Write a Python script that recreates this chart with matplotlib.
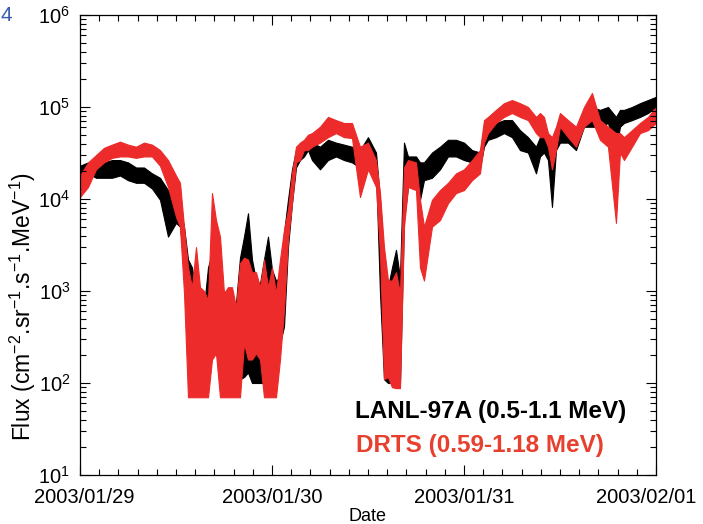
import matplotlib
matplotlib.use("Agg")
import matplotlib.pyplot as plt
import matplotlib.dates as mdates
import matplotlib.ticker as mticker
import matplotlib.transforms as mtransforms
import pandas as pd

plt.rcParams['font.family'] = ['Liberation Sans', 'DejaVu Sans']
plt.rcParams['mathtext.fontset'] = 'custom'
plt.rcParams['mathtext.rm'] = 'Liberation Sans'
plt.rcParams['mathtext.it'] = 'Liberation Sans:italic'
plt.rcParams['mathtext.bf'] = 'Liberation Sans:bold'

# hours after 2003/01/29 00:00 UT
hours = [0, 1, 2, 3, 4, 5, 6, 7, 8, 9, 10, 11, 12, 12.5, 13, 13.5, 14, 14.5, 15, 15.5,
         16, 16.5, 17, 17.5, 18, 18.5, 19, 19.5, 20, 20.5, 21, 21.5, 22, 22.5, 23, 23.5,
         24, 24.5, 25, 25.5, 26, 26.5, 27, 27.5, 28, 28.5, 29, 30, 31, 32, 33, 34, 35, 36,
         37, 37.5, 38, 38.5, 39, 39.5, 40, 40.5, 41, 42, 42.5, 43, 44, 45, 46, 47, 48, 49,
         50, 50.5, 51, 52, 53, 54, 55, 56, 57, 57.5, 58, 58.5, 59, 59.5, 60, 61, 62, 63,
         64, 65, 66, 67, 67.5, 68, 69, 70, 71, 72]

# LANL-97A flux envelope (min / max within each sample)
lanl_lo = [1.6e4, 1.9e4, 1.7e4, 1.7e4, 1.7e4, 1.8e4, 1.6e4, 1.5e4, 1.5e4, 1.3e4, 9.8e3, 3.9e3,
           5.5e3, 5.0e3, 1.8e3, 800, 100, 100, 100, 100, 110, 210, 210, 150, 180, 150, 140,
           100, 110, 116, 130, 100, 100, 100, 100, 100, 110, 130, 270, 410, 3.0e3, 9.0e3,
           2.2e4, 2.65e4, 2.9e4, 3.4e4, 2.65e4, 2.1e4, 2.65e4, 2.9e4, 2.65e4, 2.5e4, 2.2e4,
           2.65e4, 2.1e4, 950, 110, 100, 100, 100, 100, 5.9e3, 1.35e4, 1.5e4, 9.8e3, 1.6e4,
           1.7e4, 2.1e4, 2.9e4, 2.9e4, 2.65e4, 2.5e4, 2.2e4, 3.7e4, 4.4e4, 4.7e4, 5.2e4,
           4.7e4, 3.4e4, 3.2e4, 1.9e4, 2.9e4, 3.2e4, 2.65e4, 8.2e3, 3.4e4, 4.1e4, 4.1e4,
           3.4e4, 6.1e4, 6.1e4, 6.1e4, 6.7e4, 3.4e4, 6.1e4, 6.7e4, 7.2e4, 7.8e4, 8.6e4, 1.0e5]
lanl_hi = [2.3e4, 2.5e4, 2.2e4, 2.5e4, 2.65e4, 2.65e4, 2.5e4, 2.2e4, 2.2e4, 1.9e4, 1.7e4, 1.25e4,
           9.0e3, 8.2e3, 5.0e3, 2.2e3, 1.8e3, 950, 860, 670, 1.8e3, 2.6e3, 2.2e3, 1.1e3, 1.0e3,
           800, 580, 740, 2.3e3, 3.9e3, 7.0e3, 2.2e3, 1.3e3, 1.2e3, 2.2e3, 3.9e3, 1.7e3, 1.3e3,
           1.4e3, 4.3e3, 9.8e3, 2.1e4, 3.4e4, 3.4e4, 3.7e4, 4.2e4, 4.1e4, 3.7e4, 4.4e4, 4.1e4,
           3.9e4, 3.7e4, 3.4e4, 4.7e4, 3.2e4, 9.8e3, 2.2e3, 1.1e3, 1.8e3, 2.8e3, 1.4e3, 4.1e4,
           2.9e4, 2.9e4, 2.5e4, 2.5e4, 3.2e4, 3.7e4, 4.4e4, 4.4e4, 4.1e4, 3.4e4, 3.2e4, 6.1e4,
           6.1e4, 6.7e4, 7.2e4, 7.2e4, 5.6e4, 4.7e4, 3.7e4, 4.7e4, 5.2e4, 4.7e4, 3.2e4, 4.7e4,
           6.1e4, 6.1e4, 5.6e4, 9.3e4, 1.0e5, 9.3e4, 1.0e5, 7.8e4, 9.3e4, 9.3e4, 1.0e5, 1.1e5,
           1.19e5, 1.29e5]

# DRTS flux envelope
drts_lo = [1.05e4, 1.35e4, 2.1e4, 2.5e4, 2.8e4, 2.9e4, 2.9e4, 2.8e4, 2.9e4, 2.9e4, 2.3e4, 1.35e4,
           6.4e3, 5.0e3, 950, 70, 70, 70, 70, 70, 70, 180, 210, 70, 70, 70, 70, 70, 70, 270,
           180, 180, 210, 180, 70, 70, 70, 70, 180, 620, 3.6e3, 9.0e3, 2.5e4, 2.65e4, 3.4e4,
           3.4e4, 3.7e4, 4.1e4, 4.7e4, 5.2e4, 4.7e4, 4.6e4, 1.05e4, 2.1e4, 1.35e4, 2.6e3, 110,
           116, 90, 88, 88, 5.0e3, 1.35e4, 1.25e4, 1.8e3, 1.3e3, 5.0e3, 5.9e3, 9.0e3, 1.16e4,
           1.25e4, 1.6e4, 1.9e4, 4.1e4, 5.2e4, 6.7e4, 7.8e4, 8.6e4, 7.8e4, 7.2e4, 5.2e4, 4.7e4,
           4.7e4, 3.7e4, 2.1e4, 3.4e4, 6.1e4, 4.7e4, 3.7e4, 6.1e4, 7.2e4, 4.4e4, 3.7e4, 5.5e3,
           3.2e4, 2.65e4, 3.7e4, 5.2e4, 5.6e4, 6.7e4]
drts_hi = [1.8e4, 2.5e4, 3.0e4, 3.6e4, 3.9e4, 4.2e4, 3.9e4, 3.7e4, 4.1e4, 3.9e4, 3.4e4, 2.65e4,
           1.8e4, 1.5e4, 5.0e3, 1.8e3, 1.1e3, 3.0e3, 1.1e3, 1.0e3, 800, 1.16e4, 5.9e3, 3.9e3,
           950, 1.1e3, 1.1e3, 670, 2.0e3, 2.3e3, 2.2e3, 1.6e3, 1.6e3, 1.1e3, 2.2e3, 1.1e3,
           1.8e3, 950, 2.2e3, 4.6e3, 7.6e3, 1.9e4, 3.7e4, 4.1e4, 4.4e4, 5.0e4, 5.2e4, 6.1e4,
           7.8e4, 7.2e4, 6.7e4, 6.7e4, 3.7e4, 4.1e4, 2.65e4, 1.16e4, 3.0e3, 1.3e3, 1.3e3, 1.6e3,
           950, 2.2e4, 2.65e4, 2.5e4, 9.8e3, 5.0e3, 9.8e3, 1.25e4, 1.5e4, 1.9e4, 2.1e4, 2.65e4,
           3.4e4, 7.2e4, 7.8e4, 9.3e4, 1.1e5, 1.19e5, 1.1e5, 1.0e5, 7.8e4, 8.6e4, 7.8e4, 5.2e4,
           4.7e4, 6.1e4, 8.6e4, 7.2e4, 6.1e4, 1.0e5, 1.42e5, 7.2e4, 6.1e4, 5.2e4, 5.2e4, 4.7e4,
           5.6e4, 6.7e4, 7.8e4, 1.0e5]

start = pd.Timestamp('2003-01-29')
t = mdates.date2num(start + pd.to_timedelta(hours, unit='h'))

black = 'black'
red = '#ec2b2a'

fig = plt.figure(figsize=(7.03, 5.24), dpi=100)
ax = fig.add_axes([0.1138, 0.0935, 0.8193, 0.8779])

ax.fill_between(t, lanl_lo, lanl_hi, color=black, lw=0.8)
ax.fill_between(t, drts_lo, drts_hi, color=red, lw=0.8)

ax.set_yscale('log')
ax.set_ylim(10, 1e6)
ax.set_xlim(mdates.date2num(pd.Timestamp('2003-01-29')), mdates.date2num(pd.Timestamp('2003-02-01')))

ax.xaxis.set_major_locator(mdates.DayLocator())
ax.xaxis.set_major_formatter(mdates.DateFormatter('%Y/%m/%d'))
ax.xaxis.set_minor_locator(mticker.MultipleLocator(0.1))
ax.yaxis.set_major_locator(mticker.LogLocator(base=10, numticks=10))
ax.yaxis.set_minor_locator(mticker.LogLocator(base=10, subs=range(2, 10), numticks=20))
ax.yaxis.set_minor_formatter(mticker.NullFormatter())

ax.tick_params(which='both', direction='in', top=True, right=True, labelsize=14.5, colors='black')
ax.tick_params(which='major', length=7, width=0.8)
ax.tick_params(which='minor', length=4, width=0.8)
ax.tick_params(axis='x', which='major', pad=9)
ax.tick_params(axis='y', which='major', pad=7)
for s in ax.spines.values():
    s.set_linewidth(0.9)

# keep the outer date labels inside the figure like the original
fig.canvas.draw()
labels = ax.get_xticklabels()
labels[0].set_transform(labels[0].get_transform() + mtransforms.ScaledTranslation(4 / 100, 0, fig.dpi_scale_trans))
labels[-1].set_transform(labels[-1].get_transform() + mtransforms.ScaledTranslation(-10 / 100, 0, fig.dpi_scale_trans))

ax.set_xlabel('Date', fontsize=13, labelpad=1)
ylab = ax.set_ylabel('Flux (cm$^{-2}$.sr$^{-1}$.s$^{-1}$.MeV$^{-1}$)', fontsize=16.5,
                     va='center', ha='center')
ax.yaxis.set_label_coords(-0.1, 0.367)

ax.text(0.477, 0.124, 'LANL-97A (0.5-1.1 MeV)', transform=ax.transAxes, fontsize=17.5,
        fontweight='bold', color=black, va='baseline')
ax.text(0.480, 0.050, 'DRTS (0.59-1.18 MeV)', transform=ax.transAxes, fontsize=17.5,
        fontweight='bold', color='#e8402e', va='baseline')

fig.text(0.5 / 703, 1 - 6 / 524, '4', fontsize=15, color='#3a5bb0', ha='left', va='top')

fig.savefig('out.png', dpi=100)
